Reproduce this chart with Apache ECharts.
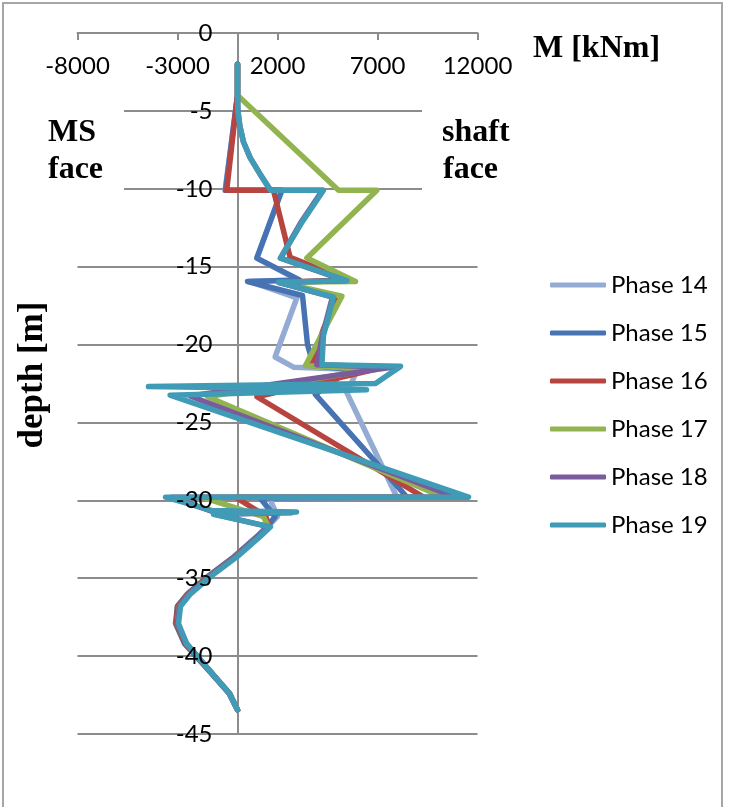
<!DOCTYPE html>
<html>
<head>
<meta charset="utf-8">
<script src="https://cdn.jsdelivr.net/npm/echarts@6.0.0/dist/echarts.min.js"></script>
<style>
  html, body { margin: 0; padding: 0; background: #ffffff; }
  #chart { width: 734px; height: 807px; }
</style>
</head>
<body>
<div id="chart"></div>
<script>
// Bending moment M [kNm] along the wall against depth [m], one line per construction phase.
const momentTicks = [-8000, -3000, 2000, 7000, 12000];
const depthTicks = [0, -5, -10, -15, -20, -25, -30, -35, -40, -45];
const phaseNames = ['Phase 14', 'Phase 15', 'Phase 16', 'Phase 17', 'Phase 18', 'Phase 19'];

// each point is [moment kNm, depth m]
const phase14 = [
  [0, -2], [0, -4], [-620, -10.1], [2200, -10.1], [980, -14.45], [3000, -15.85], [600, -15.95],
  [2970, -17.0], [1880, -20.8], [2800, -21.45], [6000, -21.6], [5470, -23.1], [7975, -29.8],
  [1600, -29.85], [2000, -31.05], [1500, -31.7],
  [1000, -32.3], [-150, -33.6], [-1450, -34.9], [-2450, -36.0], [-2950, -36.8], [-3050, -37.9],
  [-2600, -39.2], [-1550, -40.7], [-400, -42.4], [0, -43.45]
];
const phase15 = [
  [0, -2], [0, -4], [-600, -10.1], [2220, -10.1], [960, -14.45], [3100, -15.85], [500, -15.95],
  [3250, -16.85], [3500, -20.0], [3800, -21.35], [5600, -21.6], [3890, -23.2], [8480, -29.8],
  [1130, -29.85], [1880, -31.05], [1470, -31.7],
  [1000, -32.3], [-150, -33.6], [-1500, -34.9], [-2500, -36.0], [-3000, -36.8], [-3100, -37.9],
  [-2650, -39.2], [-1600, -40.7], [-420, -42.4], [0, -43.45]
];
const phase16 = [
  [0, -2], [0, -4], [-540, -10.1], [1800, -10.1], [2630, -14.4], [5470, -15.85], [2100, -16.0],
  [5000, -16.95], [4300, -19.0], [3650, -21.35], [7000, -21.55], [970, -23.35], [9300, -29.8],
  [-100, -29.8], [1400, -31.0], [1600, -31.7],
  [1100, -32.3], [-100, -33.6], [-1450, -34.9], [-2450, -36.0], [-3000, -36.8], [-3050, -37.9],
  [-2600, -39.2], [-1550, -40.7], [-400, -42.4], [0, -43.45]
];
const phase17 = [
  [0, -2], [0, -4], [5050, -10.1], [6970, -10.1], [3470, -14.45], [5900, -15.95], [2100, -16.0],
  [5220, -16.9], [3400, -21.35], [6700, -21.6], [-1500, -23.35], [10300, -29.8], [-1800, -29.8],
  [1300, -31.05], [1550, -31.7],
  [1100, -32.3], [-50, -33.6], [-1400, -34.9], [-2400, -36.0], [-2900, -36.8], [-3000, -37.9],
  [-2550, -39.2], [-1550, -40.7], [-400, -42.4], [0, -43.45]
];
const phase18 = [
  [0, -2], [0, -4], [20, -5], [120, -6], [300, -7], [630, -8], [1100, -9], [1650, -10.1],
  [4250, -10.1], [3150, -12.2], [2150, -14.45], [5400, -15.9], [2050, -16.0], [4750, -16.95],
  [4250, -19.4], [3970, -21.3], [7800, -21.45], [-2370, -23.3], [10900, -29.8], [-3300, -29.8],
  [-1300, -30.7], [2700, -30.8], [-1100, -30.9], [1600, -31.7],
  [1100, -32.3], [-50, -33.6], [-1400, -34.9], [-2400, -36.0], [-2900, -36.8], [-3000, -37.9],
  [-2550, -39.2], [-1550, -40.7], [-400, -42.4], [0, -43.45]
];
const phase19 = [
  [0, -2], [0, -4], [20, -5], [120, -6], [300, -7], [630, -8], [1100, -9], [1650, -10.1],
  [4300, -10.1], [3200, -12.2], [2150, -14.45], [5470, -15.9], [2050, -16.0], [4800, -16.95],
  [4300, -19.4], [4220, -21.3], [8150, -21.4], [6900, -22.5], [-4450, -22.7], [6450, -22.9],
  [-3370, -23.25], [11550, -29.8], [-3600, -29.8], [-1300, -30.65], [2950, -30.75], [-1200, -30.9],
  [1650, -31.7],
  [1150, -32.3], [0, -33.6], [-1350, -34.9], [-2350, -36.0], [-2850, -36.8], [-2950, -37.9],
  [-2550, -39.2], [-1550, -40.7], [-400, -42.4], [0, -43.45]
];

const phaseData = [phase14, phase15, phase16, phase17, phase18, phase19];
const phaseColors = ['#94abd3', '#4773b3', '#b8443f', '#92b450', '#7a5c9c', '#3f9bb6'];

const gridColor = '#8c8c8c';
const labelFont = 'Lato';
const titleFont = '"Liberation Serif", "Times New Roman", serif';

const plotLeft = 77.5;
const plotWidth = 400;
const xMin = momentTicks[0];
const xMax = momentTicks[momentTicks.length - 1];
// horizontal distance from the plot's left edge to the M = 0 line, for the depth labels
const zeroOffset = plotWidth * (0 - xMin) / (xMax - xMin);

const chart = echarts.init(document.getElementById('chart'), null, { renderer: 'canvas' });

chart.setOption({
  animation: false,
  backgroundColor: '#ffffff',
  grid: { left: plotLeft, top: 33, width: plotWidth, height: 701, containLabel: false },
  xAxis: {
    type: 'value',
    position: 'top',
    min: xMin,
    max: xMax,
    interval: momentTicks[1] - momentTicks[0],
    axisLine: { show: true, onZero: false, lineStyle: { color: gridColor, width: 2 } },
    axisTick: { show: true, inside: true, length: 7, lineStyle: { color: gridColor, width: 2 } },
    axisLabel: {
      inside: true, margin: 21, color: '#000', fontFamily: labelFont, fontSize: 24,
      formatter: v => String(v)
    },
    splitLine: { show: false }
  },
  yAxis: [
    {
      type: 'value',
      min: depthTicks[depthTicks.length - 1],
      max: depthTicks[0],
      interval: depthTicks[0] - depthTicks[1],
      axisLine: { show: true, onZero: true, lineStyle: { color: gridColor, width: 2 } },
      axisTick: { show: false },
      axisLabel: { show: false },
      splitLine: { show: true, lineStyle: { color: gridColor, width: 2 } }
    },
    {
      // labels only, kept above the lines, sitting on the M = 0 line
      type: 'value',
      position: 'left',
      offset: -zeroOffset,
      z: 5,
      min: depthTicks[depthTicks.length - 1],
      max: depthTicks[0],
      interval: depthTicks[0] - depthTicks[1],
      axisLine: { show: false, onZero: false },
      axisTick: { show: false },
      axisLabel: { margin: 25, color: '#000', fontFamily: labelFont, fontSize: 24 },
      splitLine: { show: false }
    }
  ],
  legend: {
    orient: 'vertical',
    left: 550,
    top: 273,
    padding: 0,
    itemWidth: 56,
    itemHeight: 5,
    itemGap: 24,
    icon: 'roundRect',
    textStyle: { fontFamily: labelFont, fontSize: 24, color: '#000', lineHeight: 24 },
    data: phaseNames
  },
  series: phaseNames.map((name, i) => ({
    name: name,
    type: 'line',
    data: phaseData[i],
    showSymbol: false,
    symbol: 'none',
    clip: false,
    itemStyle: { color: phaseColors[i] },
    lineStyle: { color: phaseColors[i], width: 5.5, cap: 'round', join: 'round' }
  })),
  graphic: [
    {
      type: 'rect', z: 0, silent: true,
      shape: { x: 3, y: 3, width: 719, height: 820 },
      style: { fill: 'none', stroke: '#a6a6a6', lineWidth: 2 }
    },
    {
      type: 'rect', z: 50, silent: true,
      shape: { x: 76, y: 100, width: 48, height: 98 },
      style: { fill: '#ffffff' }
    },
    {
      type: 'rect', z: 50, silent: true,
      shape: { x: 422, y: 100, width: 57, height: 98 },
      style: { fill: '#ffffff' }
    },
    {
      type: 'text', z: 60, silent: true,
      style: { text: 'M [kNm]', x: 533, y: 49, fill: '#000', font: 'bold 32px ' + titleFont, verticalAlign: 'middle' }
    },
    {
      type: 'text', z: 60, silent: true,
      style: { text: 'MS', x: 48, y: 133, fill: '#000', font: 'bold 32px ' + titleFont, verticalAlign: 'middle' }
    },
    {
      type: 'text', z: 60, silent: true,
      style: { text: 'face', x: 48, y: 170, fill: '#000', font: 'bold 32px ' + titleFont, verticalAlign: 'middle' }
    },
    {
      type: 'text', z: 60, silent: true,
      style: { text: 'shaft', x: 442, y: 133, fill: '#000', font: 'bold 32px ' + titleFont, verticalAlign: 'middle' }
    },
    {
      type: 'text', z: 60, silent: true,
      style: { text: 'face', x: 443, y: 170, fill: '#000', font: 'bold 32px ' + titleFont, verticalAlign: 'middle' }
    },
    {
      type: 'text', z: 60, silent: true,
      x: 33, y: 375, rotation: Math.PI / 2,
      style: { text: 'depth [m]', x: 0, y: 0, fill: '#000', font: 'bold 35px ' + titleFont, align: 'center', verticalAlign: 'middle' }
    }
  ]
});
</script>
</body>
</html>
